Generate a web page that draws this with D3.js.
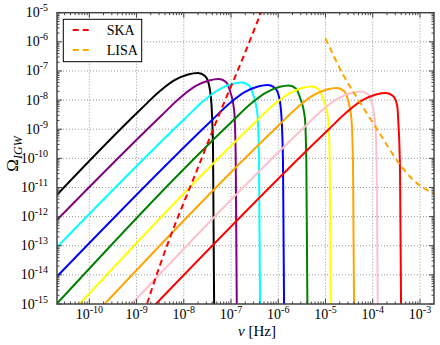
<!DOCTYPE html>
<html><head><meta charset="utf-8">
<script src="https://cdn.jsdelivr.net/npm/d3@7/dist/d3.min.js"></script>
<style>body{margin:0;background:#fff;}svg{display:block;}</style>
</head><body>
<svg id="chart" width="440" height="345"></svg>
<script>
// ---------- data (frequency [Hz], Omega_IGW) ----------
const xTickValues = [1e-10, 1e-9, 1e-8, 1e-7, 1e-6, 1e-5, 1e-4, 1e-3];
const xTickExps = ["-10", "-9", "-8", "-7", "-6", "-5", "-4", "-3"];
const yTickValues = [1e-15, 1e-14, 1e-13, 1e-12, 1e-11, 1e-10, 1e-9, 1e-8, 1e-7, 1e-6, 1e-5];
const yTickExps = ["-15", "-14", "-13", "-12", "-11", "-10", "-9", "-8", "-7", "-6", "-5"];

const seriesColors = ["black", "purple", "cyan", "blue", "green", "yellow", "orange", "pink", "red"];

const curveBlack = [[1.47e-11,3.15e-12],[1.18e-9,4.57e-9],[3.14e-9,2.05e-8],[6.52e-9,4.90e-8],[1.23e-8,7.57e-8],[2.00e-8,8.51e-8],[2.81e-8,6.71e-8],[3.42e-8,3.30e-8],[3.86e-8,6.78e-9],[4.16e-8,1.94e-10],[4.43e-8,1e-16]];
const curvePurple = [[1.47e-11,4.37e-13],[3.29e-9,2.84e-9],[8.73e-9,1.28e-8],[1.81e-8,3.05e-8],[3.41e-8,4.71e-8],[5.56e-8,5.30e-8],[7.82e-8,4.18e-8],[9.51e-8,2.05e-8],[1.167e-7,4.22e-9],[1.256e-7,1.21e-10],[1.337e-7,1e-16]];
const curveCyan = [[1.47e-11,5.04e-14],[1.01e-8,2.16e-9],[2.68e-8,9.68e-9],[5.56e-8,2.31e-8],[1.05e-7,3.57e-8],[1.71e-7,4.02e-8],[2.40e-7,3.17e-8],[2.92e-7,1.56e-8],[3.63e-7,3.20e-9],[3.91e-7,9.14e-11],[4.16e-7,1e-16]];
const curveBlue = [[1.47e-11,4.93e-15],[3.59e-8,1.77e-9],[9.53e-8,7.94e-9],[1.98e-7,1.90e-8],[3.72e-7,2.93e-8],[6.07e-7,3.30e-8],[8.53e-7,2.60e-8],[1.04e-6,1.28e-8],[1.169e-6,2.62e-9],[1.259e-6,7.50e-11],[1.340e-6,1e-16]];
const curveGreen = [[1.47e-11,5.70e-16],[9.98e-8,1.70e-9],[2.65e-7,7.64e-9],[5.50e-7,1.82e-8],[1.04e-6,2.82e-8],[1.69e-6,3.17e-8],[2.37e-6,2.50e-8],[2.88e-6,1.23e-8],[3.65e-6,2.52e-9],[3.93e-6,7.21e-11],[4.18e-6,1e-16]];
const curveYellow = [[4.47e-11,5.60e-16],[3.06e-7,1.57e-9],[8.13e-7,7.05e-9],[1.69e-6,1.68e-8],[3.18e-6,2.60e-8],[5.18e-6,2.92e-8],[7.28e-6,2.31e-8],[8.85e-6,1.13e-8],[1.140e-5,2.33e-9],[1.227e-5,6.65e-11],[1.306e-5,1e-16]];
const curveOrange = [[1.51e-10,5.62e-16],[1.04e-6,1.40e-9],[2.75e-6,6.27e-9],[5.70e-6,1.50e-8],[1.07e-5,2.31e-8],[1.75e-5,2.60e-8],[2.46e-5,2.05e-8],[2.99e-5,1.01e-8],[3.55e-5,2.07e-9],[3.82e-5,5.92e-11],[4.06e-5,1e-16]];
const curvePink = [[5.62e-10,5.62e-16],[3.33e-6,1.06e-9],[8.85e-6,4.75e-9],[1.84e-5,1.14e-8],[3.46e-5,1.75e-8],[5.64e-5,1.97e-8],[7.93e-5,1.56e-8],[9.64e-5,7.64e-9],[1.127e-4,1.57e-9],[1.213e-4,4.49e-11],[1.291e-4,1e-16]];
const curveRed = [[1.82e-9,5.62e-16],[1.13e-5,9.40e-10],[3.00e-5,4.22e-9],[6.22e-5,1.01e-8],[1.17e-4,1.56e-8],[1.91e-4,1.75e-8],[2.69e-4,1.38e-8],[3.27e-4,6.78e-9],[3.51e-4,1.39e-9],[3.78e-4,3.98e-11],[4.02e-4,1e-16]];

const skaCurve = [[1.44e-9,4.91e-16],[3.14e-9,2.18e-14],[5.36e-9,2.34e-13],[1.73e-8,2.68e-11],[6.14e-8,4.57e-9],[1.55e-7,1.60e-7],[4.53e-7,1.24e-5]];
const lisaCurve = [[1.0e-5,1.32e-6],[2.38e-5,7.26e-8],[5.83e-5,6.78e-9],[1.55e-4,5.53e-10],[3.21e-4,8.77e-11],[7.21e-4,1.81e-11],[1.63e-3,7.16e-12],[2.65e-3,5.09e-12]];

const legendNames = ["SKA", "LISA"];
const legendColors = ["red", "orange"];

// ---------- drawing ----------
const svg = d3.select("#chart");
const L = 57, R = 434, T = 12.7, B = 304;
const x = d3.scaleLog().domain([2.07e-11, 1.98e-3]).range([L, R]);
const y = d3.scaleLog().domain([1e-15, 1e-5]).range([B, T]);
const serif = "'Liberation Serif','Times New Roman',serif";

svg.append("rect").attr("width", 440).attr("height", 345).attr("fill", "#fff");

svg.append("defs").append("clipPath").attr("id", "clip")
  .append("rect").attr("x", L).attr("y", T).attr("width", R - L).attr("height", B - T);

// grid
const grid = svg.append("g");
grid.selectAll(".gx").data(xTickValues).enter().append("line")
  .attr("x1", d => x(d)).attr("x2", d => x(d)).attr("y1", T).attr("y2", B)
  .attr("stroke", "#999").attr("stroke-width", 1).attr("stroke-dasharray", "1,2");
grid.selectAll(".gy").data(yTickValues.slice(1, -1)).enter().append("line")
  .attr("y1", d => y(d)).attr("y2", d => y(d)).attr("x1", L).attr("x2", R)
  .attr("stroke", "#999").attr("stroke-width", 1).attr("stroke-dasharray", "1,2");

// curves
const line = d3.line().x(d => x(d[0])).y(d => y(d[1])).curve(d3.curveMonotoneX);
const plot = svg.append("g").attr("clip-path", "url(#clip)");
const curves = [curveBlack, curvePurple, curveCyan, curveBlue, curveGreen, curveYellow, curveOrange, curvePink, curveRed];
curves.forEach((c, i) => {
  plot.append("path").attr("d", line(c)).attr("fill", "none")
    .attr("stroke", seriesColors[i]).attr("stroke-width", 2);
});
plot.append("path").attr("d", line(skaCurve)).attr("fill", "none")
  .attr("stroke", "red").attr("stroke-width", 2).attr("stroke-dasharray", "6,4");
plot.append("path").attr("d", line(lisaCurve)).attr("fill", "none")
  .attr("stroke", "orange").attr("stroke-width", 2).attr("stroke-dasharray", "6,4");

// ticks (inward, all four sides)
const ax = svg.append("g").attr("stroke", "#444").attr("stroke-width", 1);
function minors(lo, hi) {
  const out = [];
  for (let e = lo; e <= hi; e++) for (let k = 2; k <= 9; k++) out.push(k * Math.pow(10, e));
  return out;
}
const xMin = minors(-11, -3).filter(v => v > 2.07e-11 && v < 1.98e-3);
const yMin = minors(-15, -6);
xTickValues.forEach(v => {
  ax.append("line").attr("x1", x(v)).attr("x2", x(v)).attr("y1", B).attr("y2", B - 5);
  ax.append("line").attr("x1", x(v)).attr("x2", x(v)).attr("y1", T).attr("y2", T + 5);
});
xMin.forEach(v => {
  ax.append("line").attr("x1", x(v)).attr("x2", x(v)).attr("y1", B).attr("y2", B - 2.5);
  ax.append("line").attr("x1", x(v)).attr("x2", x(v)).attr("y1", T).attr("y2", T + 2.5);
});
yTickValues.forEach(v => {
  ax.append("line").attr("y1", y(v)).attr("y2", y(v)).attr("x1", L).attr("x2", L + 5);
  ax.append("line").attr("y1", y(v)).attr("y2", y(v)).attr("x1", R).attr("x2", R - 5);
});
yMin.forEach(v => {
  ax.append("line").attr("y1", y(v)).attr("y2", y(v)).attr("x1", L).attr("x2", L + 2.5);
  ax.append("line").attr("y1", y(v)).attr("y2", y(v)).attr("x1", R).attr("x2", R - 2.5);
});

// frame
svg.append("rect").attr("x", L).attr("y", T).attr("width", R - L).attr("height", B - T)
  .attr("fill", "none").attr("stroke", "#444").attr("stroke-width", 1.5);

// tick labels
xTickValues.forEach((v, i) => {
  const t = svg.append("text").attr("x", x(v)).attr("y", 319).attr("text-anchor", "middle")
    .attr("font-family", serif).attr("font-size", 14).attr("fill", "#000");
  t.append("tspan").text("10");
  t.append("tspan").attr("dy", -6).attr("font-size", 10).text(xTickExps[i]);
});
yTickValues.forEach((v, i) => {
  const t = svg.append("text").attr("x", 48).attr("y", y(v) + 4.5).attr("text-anchor", "end")
    .attr("font-family", serif).attr("font-size", 14).attr("fill", "#000");
  t.append("tspan").text("10");
  t.append("tspan").attr("dy", -6).attr("font-size", 10).text(yTickExps[i]);
});

// axis titles
const xt = svg.append("text").attr("x", 257).attr("y", 336).attr("text-anchor", "middle")
  .attr("font-family", serif).attr("font-size", 15).attr("fill", "#000");
xt.append("tspan").attr("font-style", "italic").text("ν");
xt.append("tspan").text(" [Hz]");

const yt = svg.append("text").attr("transform", "translate(18,154) rotate(-90)")
  .attr("text-anchor", "middle").attr("font-family", serif).attr("font-size", 17).attr("fill", "#000");
yt.append("tspan").text("Ω");
yt.append("tspan").attr("dy", 4).attr("font-size", 12).attr("font-style", "italic").text("IGW");

// legend
const lg = svg.append("g");
lg.append("rect").attr("x", 63.3).attr("y", 19.3).attr("width", 78.4).attr("height", 42.4)
  .attr("fill", "#fff").attr("stroke", "#000").attr("stroke-width", 1);
legendNames.forEach((n, i) => {
  const yy = 30 + i * 20;
  lg.append("line").attr("x1", 72.7).attr("x2", 88.7).attr("y1", yy).attr("y2", yy)
    .attr("stroke", legendColors[i]).attr("stroke-width", 2).attr("stroke-dasharray", "6,4");
  lg.append("text").attr("x", 106.7).attr("y", yy + 5).attr("font-family", serif)
    .attr("font-size", 14).attr("fill", "#000").text(n);
});
</script>
</body></html>
